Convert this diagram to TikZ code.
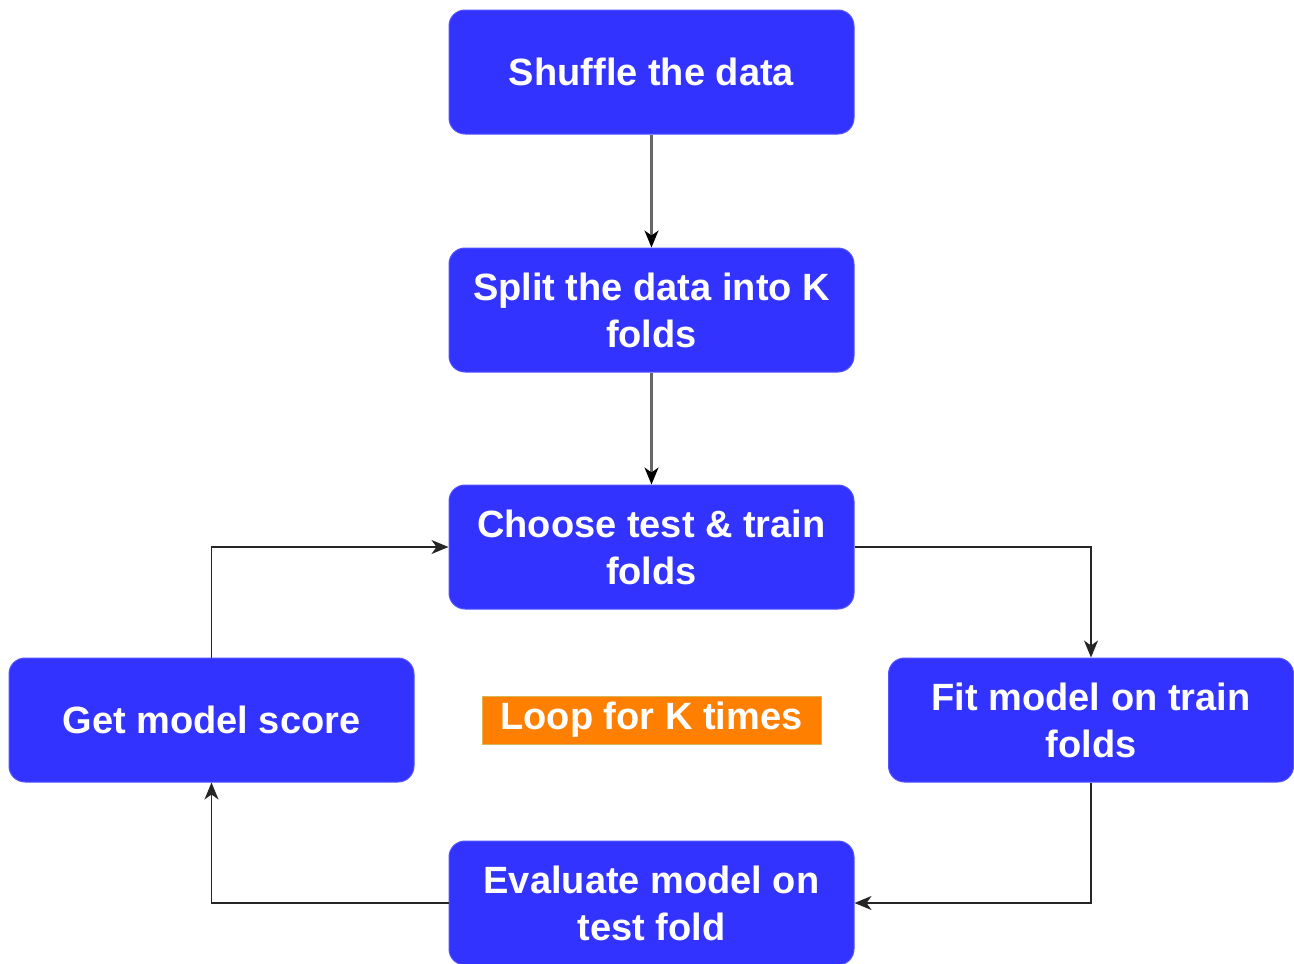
\documentclass[tikz,border=0pt]{standalone}
\usepackage{fontspec}
\setmainfont{Liberation Sans}
\usetikzlibrary{arrows.meta,positioning}
\definecolor{boxblue}{HTML}{3333FF}
\definecolor{loopor}{HTML}{FF8000}
\definecolor{loopedge}{HTML}{D6B656}
\definecolor{grayline}{HTML}{666666}
\tikzset{
  stepbox/.style={rectangle, rounded corners=16pt, fill=boxblue, draw=boxblue!85!white, line width=1pt,
    minimum width=405pt, minimum height=124pt, text=white, align=center,
    font=\fontsize{38}{47}\selectfont\bfseries, inner sep=0pt},
  looplabel/.style={rectangle, fill=loopor, draw=loopedge, line width=1pt,
    minimum width=339pt, minimum height=48pt, text=white,
    font=\fontsize{38}{47}\selectfont\bfseries, inner sep=0pt},
  conn/.style={line width=1.6pt, draw=black!85, -{Stealth[length=17pt,width=14pt,inset=5pt]}},
  gconn/.style={line width=2.2pt, draw=grayline, -{Stealth[length=17pt,width=14pt,inset=5pt,fill=black,color=black]}}
}
\begin{document}
\begin{tikzpicture}[x=1pt,y=-1pt]
\useasboundingbox (0,0) rectangle (1294,964);
\node[stepbox] (shuffle) at (651.5,72) {Shuffle the data};
\node[stepbox] (split) at (651.5,310) {Split the data into K\\folds};
\node[stepbox] (choose) at (651.5,547) {Choose test \& train\\folds};
\node[stepbox] (score) at (211.5,720) {Get model score};
\node[stepbox] (fit) at (1091,720) {Fit model on train\\folds};
\node[stepbox] (eval) at (651.5,903) {Evaluate model on\\test fold};
\node[looplabel] (loop) at (651.5,720) {Loop for K times};
\draw[gconn] (shuffle.south) -- (split.north);
\draw[gconn] (split.south) -- (choose.north);
\draw[conn] (choose.east) -| (fit.north);
\draw[conn] (fit.south) |- (eval.east);
\draw[conn] (eval.west) -| (score.south);
\draw[conn] (score.north) |- (choose.west);
\end{tikzpicture}
\end{document}
